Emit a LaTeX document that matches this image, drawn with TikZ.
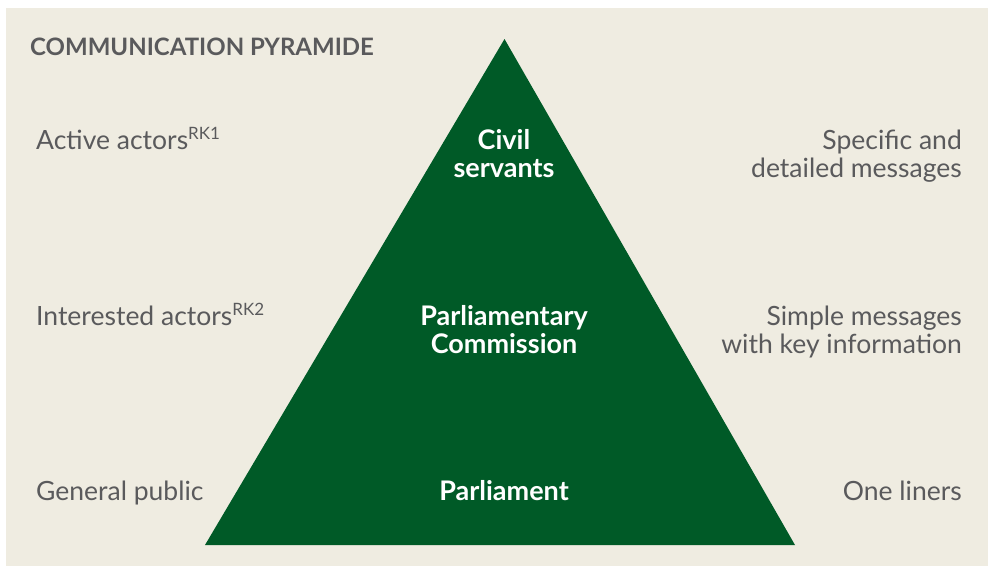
\documentclass[tikz,border=0pt]{standalone}
\usepackage{fontspec}
\setmainfont{Lato}
\usepackage{xcolor}
\definecolor{panelbg}{HTML}{EFECE1}
\definecolor{pyrgreen}{HTML}{005A27}
\definecolor{txtgray}{HTML}{5A5A5C}
\tikzset{
  lefttxt/.style={anchor=base west, inner sep=0pt, text=txtgray, font=\fontsize{26.5}{29}\selectfont},
  righttxt/.style={anchor=base east, inner sep=0pt, text=txtgray, align=right, font=\fontsize{26.5}{28.5}\selectfont},
  leveltxt/.style={anchor=base, inner sep=0pt, text=white, align=center, font=\fontsize{27}{28.5}\selectfont\bfseries},
  titletxt/.style={anchor=base west, inner sep=0pt, text=txtgray, font=\fontsize{24}{26}\selectfont\bfseries}
}
\newcommand{\rk}[1]{\textsuperscript{\fontsize{17}{17}\selectfont #1}}
\begin{document}
\begin{tikzpicture}[x=1pt,y=-1pt]
		\useasboundingbox (0,0) rectangle (988,566);
		\fill[white] (0,0) rectangle (988,566);
		\fill[panelbg] (6,8) rectangle (988,566);
		\fill[pyrgreen] (504.5,39) -- (795,545) -- (205,545) -- cycle;
		
		% two-line nodes sit on the base of their last line
		\draw (30,55) node[titletxt] (title) {COMMUNICATION PYRAMIDE}
		(36,149) node[lefttxt] (active) {Active actors\rk{RK1}}
		(36,325) node[lefttxt] (interested) {Interested actors\rk{RK2}}
		(36,500) node[lefttxt] (public) {General public}
		(504,177.5) node[leveltxt] (civil) {Civil\\servants}
		(504,353.5) node[leveltxt] (commission) {Parliamentary\\Commission}
		(504,500) node[leveltxt] (parliament) {Parliament}
		(962,177.5) node[righttxt] (specific) {Specific and\\detailed messages}
		(962,353.5) node[righttxt] (simple) {Simple messages\\with key information}
		(962,500) node[righttxt] (oneliners) {One liners};
	\end{tikzpicture}
\end{document}
